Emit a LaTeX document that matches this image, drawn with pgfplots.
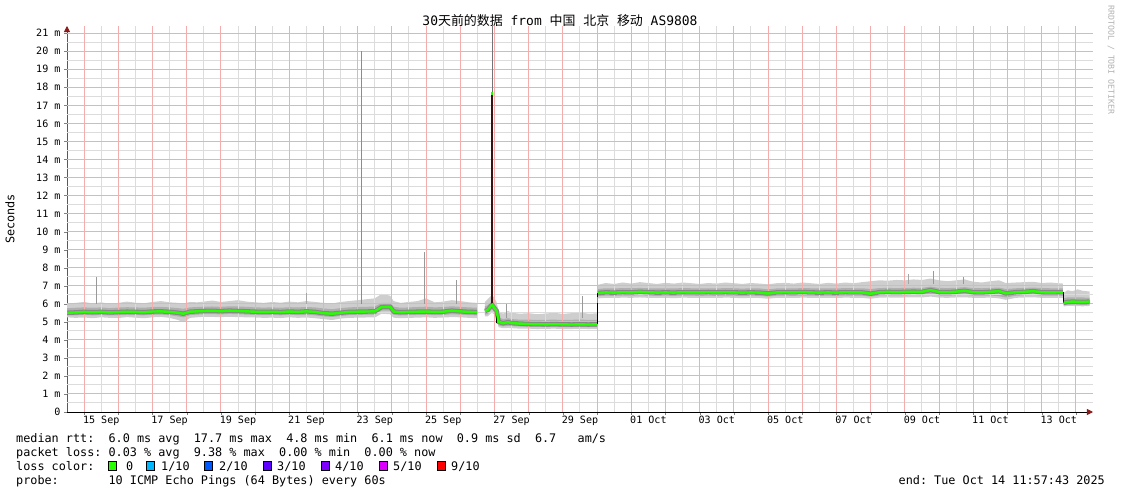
\documentclass[border=0pt]{standalone}
\usepackage{fontspec}
\usepackage{pgfplots}
\usepackage{pgfplotstable}
\pgfplotsset{compat=1.18}
\usepgfplotslibrary{fillbetween}
\usetikzlibrary{arrows.meta}
\setmainfont{DejaVu Sans Mono}
\newfontfamily\mono{DejaVu Sans Mono}
\newfontfamily\cjk{Noto Sans CJK SC}
\frenchspacing
\definecolor{gridred}{RGB}{244,172,172}
\definecolor{gridgray}{RGB}{220,220,220}
\definecolor{arrowred}{RGB}{140,25,25}
\definecolor{smokelight}{RGB}{206,206,206}
\definecolor{smokemid}{RGB}{175,175,175}
\definecolor{smokedark}{RGB}{135,135,135}
\definecolor{loss0}{HTML}{26FF00}
\definecolor{loss1}{HTML}{00B8FF}
\definecolor{loss2}{HTML}{0059FF}
\definecolor{loss3}{HTML}{5E00FF}
\definecolor{loss4}{HTML}{7E00FF}
\definecolor{loss5}{HTML}{DD00FF}
\definecolor{loss9}{HTML}{FF0000}
\newcommand\legfont{\mono\fontsize{11.85}{14}\selectfont}
\newcommand\tickfont{\mono\fontsize{10.1}{12}\selectfont}
\newcommand\titlefont{\fontsize{13}{15}\selectfont}

% x = days since start (Sep 14 11:57:43), columns: light upper, mid upper, median, mid lower, light lower
\pgfplotstableread{
x lu mu med ml ll
0.00 6.00 5.75 5.50 5.35 5.25
0.25 6.05 5.78 5.52 5.36 5.22
0.50 6.10 5.80 5.55 5.38 5.24
0.75 6.02 5.78 5.53 5.36 5.20
1.00 6.08 5.80 5.55 5.37 5.25
1.25 6.00 5.76 5.52 5.35 5.22
1.50 6.05 5.79 5.54 5.36 5.21
1.75 6.12 5.81 5.56 5.38 5.26
2.00 6.06 5.80 5.55 5.37 5.23
2.25 6.03 5.78 5.53 5.36 5.20
2.50 6.10 5.82 5.57 5.39 5.25
2.75 6.15 5.83 5.58 5.40 5.27
3.00 6.08 5.80 5.55 5.37 5.22
3.25 6.05 5.76 5.50 5.30 5.10
3.40 6.02 5.72 5.45 5.25 4.98
3.60 6.10 5.80 5.56 5.37 5.22
3.80 6.08 5.82 5.58 5.40 5.25
4.00 6.12 5.84 5.60 5.42 5.28
4.25 6.18 5.85 5.61 5.43 5.27
4.50 6.10 5.83 5.59 5.41 5.26
4.75 6.15 5.86 5.62 5.44 5.28
5.00 6.20 5.85 5.60 5.42 5.26
5.25 6.12 5.83 5.58 5.40 5.25
5.50 6.08 5.80 5.56 5.38 5.24
5.75 6.05 5.79 5.55 5.37 5.22
6.00 6.10 5.80 5.56 5.38 5.23
6.25 6.06 5.78 5.54 5.36 5.21
6.50 6.12 5.81 5.57 5.39 5.25
6.75 6.08 5.80 5.55 5.37 5.22
7.00 6.15 5.82 5.58 5.38 5.24
7.25 6.10 5.80 5.55 5.36 5.20
7.50 6.05 5.74 5.48 5.30 5.15
7.75 6.02 5.70 5.45 5.27 5.10
8.00 6.10 5.76 5.50 5.32 5.18
8.25 6.15 5.80 5.55 5.37 5.22
8.50 6.20 5.82 5.56 5.38 5.23
8.75 6.25 5.83 5.57 5.40 5.24
9.00 6.30 5.85 5.58 5.40 5.24
9.20 6.55 6.05 5.82 5.62 5.45
9.45 6.45 6.05 5.83 5.62 5.42
9.55 6.15 5.84 5.57 5.39 5.23
9.75 6.05 5.78 5.53 5.35 5.20
10.00 6.10 5.80 5.55 5.37 5.22
10.25 6.15 5.82 5.56 5.38 5.23
10.50 6.30 5.84 5.57 5.39 5.25
10.75 6.08 5.80 5.55 5.37 5.22
11.00 6.12 5.82 5.56 5.38 5.24
11.25 6.20 5.86 5.62 5.42 5.26
11.50 6.15 5.83 5.58 5.40 5.25
11.75 6.08 5.80 5.55 5.37 5.22
11.99 6.05 5.78 5.54 5.36 5.20
}\segA

\pgfplotstableread{
x lu mu med ml ll
12.22 6.10 5.85 5.60 5.40 5.30
12.30 6.25 5.92 5.65 5.42 5.30
12.38 6.40 6.05 5.85 5.60 5.45
12.43 6.50 6.10 5.95 5.70 5.50
12.50 6.30 5.95 5.75 5.52 5.40
12.56 6.10 5.80 5.62 5.35 5.20
12.62 5.60 5.25 5.00 4.80 4.70
12.75 5.45 5.15 4.92 4.75 4.65
12.90 5.60 5.20 4.98 4.78 4.66
13.00 5.50 5.15 4.93 4.76 4.65
13.25 5.45 5.12 4.90 4.74 4.62
13.50 5.48 5.12 4.88 4.72 4.62
13.75 5.42 5.10 4.87 4.72 4.60
14.00 5.46 5.11 4.86 4.71 4.61
14.25 5.50 5.12 4.87 4.72 4.62
14.50 5.44 5.10 4.86 4.70 4.60
14.75 5.48 5.11 4.85 4.70 4.60
15.00 5.52 5.13 4.86 4.71 4.61
15.25 5.45 5.10 4.85 4.70 4.60
15.50 5.47 5.11 4.86 4.71 4.61
}\segB

\pgfplotstableread{
x lu mu med ml ll
15.52 7.05 6.82 6.60 6.42 6.30
15.75 7.15 6.86 6.63 6.45 6.33
16.00 7.10 6.85 6.62 6.44 6.32
16.25 7.18 6.87 6.64 6.46 6.34
16.50 7.12 6.86 6.63 6.45 6.33
16.75 7.20 6.88 6.66 6.47 6.35
17.00 7.15 6.86 6.64 6.45 6.33
17.25 7.10 6.85 6.62 6.44 6.32
17.50 7.16 6.86 6.63 6.45 6.33
17.75 7.12 6.85 6.62 6.44 6.31
18.00 7.18 6.87 6.64 6.46 6.34
18.25 7.14 6.86 6.63 6.45 6.33
18.50 7.10 6.85 6.63 6.44 6.32
18.75 7.15 6.86 6.64 6.45 6.33
19.00 7.12 6.85 6.63 6.44 6.32
19.25 7.18 6.87 6.64 6.46 6.34
19.50 7.14 6.86 6.63 6.45 6.33
19.75 7.10 6.84 6.62 6.43 6.31
20.00 7.15 6.86 6.63 6.45 6.33
20.25 7.12 6.85 6.62 6.44 6.32
20.50 7.08 6.80 6.57 6.40 6.28
20.75 7.14 6.85 6.63 6.45 6.33
21.00 7.16 6.86 6.64 6.45 6.33
21.25 7.12 6.85 6.63 6.44 6.32
21.50 7.18 6.87 6.65 6.46 6.34
21.75 7.14 6.86 6.63 6.45 6.33
22.00 7.10 6.85 6.62 6.44 6.32
22.25 7.16 6.86 6.63 6.45 6.33
22.50 7.12 6.85 6.62 6.44 6.32
22.75 7.18 6.87 6.64 6.46 6.34
23.00 7.14 6.86 6.63 6.45 6.33
23.25 7.20 6.86 6.63 6.45 6.33
23.50 7.25 6.82 6.56 6.40 6.28
23.75 7.30 6.87 6.64 6.46 6.34
24.00 7.28 6.88 6.66 6.47 6.35
24.25 7.32 6.87 6.64 6.46 6.34
24.50 7.30 6.88 6.66 6.47 6.35
24.75 7.35 6.89 6.67 6.48 6.36
25.00 7.32 6.88 6.66 6.47 6.35
25.25 7.40 6.95 6.76 6.55 6.40
25.50 7.30 6.88 6.65 6.46 6.34
25.75 7.25 6.87 6.64 6.45 6.33
26.00 7.30 6.89 6.67 6.47 6.35
26.25 7.35 6.92 6.72 6.50 6.36
26.50 7.22 6.87 6.64 6.45 6.33
26.75 7.18 6.86 6.63 6.45 6.33
27.00 7.25 6.88 6.66 6.46 6.34
27.25 7.30 6.90 6.70 6.42 6.30
27.45 7.15 6.82 6.58 6.35 6.22
27.75 7.18 6.86 6.64 6.45 6.33
28.00 7.20 6.88 6.66 6.47 6.35
28.25 7.22 6.90 6.70 6.49 6.36
28.50 7.15 6.87 6.64 6.45 6.33
28.75 7.18 6.86 6.63 6.45 6.33
29.00 7.14 6.86 6.64 6.45 6.33
29.12 7.12 6.85 6.63 6.44 6.32
}\segC

\pgfplotstableread{
x lu mu med ml ll
29.14 6.60 6.30 6.05 5.92 5.85
29.25 6.75 6.35 6.10 5.95 5.88
29.40 6.70 6.35 6.12 5.96 5.88
29.55 6.80 6.36 6.11 5.95 5.87
29.70 6.72 6.35 6.10 5.94 5.86
29.90 6.68 6.34 6.12 5.95 5.88
}\segD

\begin{document}
\begin{tikzpicture}
\path (0,0) rectangle (1121bp,-494bp);
\begin{axis}[
  at={(67bp,-412bp)}, anchor=south west,
  scale only axis, width=1026bp, height=386bp,
  xmin=0, xmax=30, ymin=0, ymax=21.4,
  axis lines=left,
  x axis line style={draw=black, line width=0.8bp, -{Triangle[width=6bp,length=6bp,color=arrowred]}},
  y axis line style={draw=black!65, line width=0.8bp, -{Triangle[width=6bp,length=6bp,color=arrowred]}},
  xtick={0.5,1.5,...,29.5}, xticklabels={},
  extra x ticks={1,3,...,29},
  extra x tick labels={15 Sep,17 Sep,19 Sep,21 Sep,23 Sep,25 Sep,27 Sep,29 Sep,01 Oct,03 Oct,05 Oct,07 Oct,09 Oct,11 Oct,13 Oct},
  extra x tick style={major tick length=0pt},
  ytick={0,1,...,21},
  yticklabels={0,1 m,2 m,3 m,4 m,5 m,6 m,7 m,8 m,9 m,10 m,11 m,12 m,13 m,14 m,15 m,16 m,17 m,18 m,19 m,20 m,21 m},
  grid=none,
  tick align=outside,
  major tick length=3bp,
  ticklabel style={font=\tickfont},
  xticklabel style={yshift=-1bp},
]
% grid: minor (noon / half-ms) grey, major (midnight / ms) red
\pgfplotsinvokeforeach{1,...,29}{\draw[gridgray, line width=1bp] (axis cs:#1,0) -- (axis cs:#1,21.4);}
\pgfplotsinvokeforeach{0.5,1.5,...,20.5}{\draw[gridgray, line width=1bp] (axis cs:0,#1) -- (axis cs:30,#1);}
\pgfplotsinvokeforeach{0.5,1.5,...,29.5}{\draw[gridred, line width=1bp] (axis cs:#1,0) -- (axis cs:#1,21.4);}
\pgfplotsinvokeforeach{1,...,21}{\draw[gridred, line width=1bp] (axis cs:0,#1) -- (axis cs:30,#1);}
% segment A
\addplot[draw=none, name path=Au] table[x=x,y=lu]{\segA};
\addplot[draw=none, name path=Al] table[x=x,y=ll]{\segA};
\addplot[fill=smokelight, draw=none] fill between[of=Au and Al];
\addplot[draw=none, name path=Amu] table[x=x,y=mu]{\segA};
\addplot[draw=none, name path=Aml] table[x=x,y=ml]{\segA};
\addplot[fill=smokemid, draw=none] fill between[of=Amu and Aml];
\addplot[smokedark, line width=4.5bp] table[x=x,y=med]{\segA};
% segment B
\addplot[draw=none, name path=Bu] table[x=x,y=lu]{\segB};
\addplot[draw=none, name path=Bl] table[x=x,y=ll]{\segB};
\addplot[fill=smokelight, draw=none] fill between[of=Bu and Bl];
\addplot[draw=none, name path=Bmu] table[x=x,y=mu]{\segB};
\addplot[draw=none, name path=Bml] table[x=x,y=ml]{\segB};
\addplot[fill=smokemid, draw=none] fill between[of=Bmu and Bml];
\addplot[smokedark, line width=4.5bp] table[x=x,y=med]{\segB};
% segment C
\addplot[draw=none, name path=Cu] table[x=x,y=lu]{\segC};
\addplot[draw=none, name path=Cl] table[x=x,y=ll]{\segC};
\addplot[fill=smokelight, draw=none] fill between[of=Cu and Cl];
\addplot[draw=none, name path=Cmu] table[x=x,y=mu]{\segC};
\addplot[draw=none, name path=Cml] table[x=x,y=ml]{\segC};
\addplot[fill=smokemid, draw=none] fill between[of=Cmu and Cml];
\addplot[smokedark, line width=4.5bp] table[x=x,y=med]{\segC};
% segment D
\addplot[draw=none, name path=Du] table[x=x,y=lu]{\segD};
\addplot[draw=none, name path=Dl] table[x=x,y=ll]{\segD};
\addplot[fill=smokelight, draw=none] fill between[of=Du and Dl];
\addplot[draw=none, name path=Dmu] table[x=x,y=mu]{\segD};
\addplot[draw=none, name path=Dml] table[x=x,y=ml]{\segD};
\addplot[fill=smokemid, draw=none] fill between[of=Dmu and Dml];
\addplot[smokedark, line width=4.5bp] table[x=x,y=med]{\segD};
% max-ping spikes
\addplot[color=black!40, line width=1bp] coordinates {(0.85,6.0) (0.85,7.5)};
\addplot[color=black!45, line width=1bp] coordinates {(8.60,6.0) (8.60,20.0)};
\addplot[color=black!40, line width=1bp] coordinates {(10.44,6.0) (10.44,8.85)};
\addplot[color=black!40, line width=1bp] coordinates {(11.40,6.0) (11.40,7.3)};
\addplot[color=black!35, line width=1bp] coordinates {(7.00,6.0) (7.00,6.6)};
\addplot[color=black!40, line width=1bp] coordinates {(12.85,5.2) (12.85,6.0)};
\addplot[color=black!40, line width=1bp] coordinates {(15.06,5.2) (15.06,6.45)};
\addplot[color=black!35, line width=1bp] coordinates {(24.60,7.1) (24.60,7.65)};
\addplot[color=black!40, line width=1bp] coordinates {(25.35,7.1) (25.35,7.8)};
\addplot[color=black!40, line width=1bp] coordinates {(26.20,7.1) (26.20,7.5)};
% big spike
\addplot[color=black!55, line width=1bp] coordinates {(12.44,6.0) (12.44,21.4)};
\addplot[color={rgb,255:red,58;green,18;blue,18}, line width=2.6bp] coordinates {(12.43,5.9) (12.43,17.7)};
% steps of the median
\addplot[color=black, line width=1bp] coordinates {(12.57,5.62) (12.57,4.95)};
\addplot[color=black, line width=1bp] coordinates {(15.51,4.86) (15.51,6.60)};
\addplot[color=loss1, line width=1.6bp] coordinates {(15.51,6.05) (15.51,6.40)};
\addplot[color=black, line width=1bp] coordinates {(29.13,6.63) (29.13,6.06)};
% median lines
\addplot[loss0, line width=2.4bp] table[x=x,y=med]{\segA};
\addplot[loss0, line width=2.4bp] table[x=x,y=med]{\segB};
\addplot[loss0, line width=2.4bp] table[x=x,y=med]{\segC};
\addplot[loss0, line width=2.4bp] table[x=x,y=med]{\segD};
\addplot[loss0, line width=2.6bp] coordinates {(12.43,17.6) (12.43,17.72)};
\end{axis}
% title and labels
\node[font=\titlefont, inner sep=0] at (560bp,-21bp) {30{\cjk 天前的数据} from {\cjk 中国} {\cjk 北京} {\cjk 移动} AS9808};
\node[font=\legfont, rotate=90, inner sep=0] at (10bp,-219bp) {Seconds};
\node[font=\mono\fontsize{8.3}{10}\selectfont, text=black!30, rotate=-90, inner sep=0] at (1111bp,-60bp) {RRDTOOL / TOBI OETIKER};
% legend text
\node[font=\legfont, anchor=base west, inner sep=0] at (16bp,-442bp) {median rtt:~~6.0 ms avg~~17.7 ms max~~4.8 ms min~~6.1 ms now~~0.9 ms sd~~6.7~~~am/s};
\node[font=\legfont, anchor=base west, inner sep=0] at (16bp,-456bp) {packet loss: 0.03 \% avg~~9.38 \% max~~0.00 \% min~~0.00 \% now};
\node[font=\legfont, anchor=base west, inner sep=0] at (16bp,-470bp) {loss color:};
\node[font=\legfont, anchor=base west, inner sep=0] at (16bp,-484bp) {probe:~~~~~~~10 ICMP Echo Pings (64 Bytes) every 60s};
\node[font=\legfont, anchor=base east, inner sep=0] at (1105bp,-484bp) {end: Tue Oct 14 11:57:43 2025};
% loss colour swatches
\foreach \bx/\lx/\c/\t in {108/126/loss0/0, 146/161/loss1/1\slash 10, 204/219/loss2/2\slash 10, 263/277/loss3/3\slash 10, 321/335/loss4/4\slash 10, 379/393/loss5/5\slash 10, 437/451/loss9/9\slash 10}{
  \filldraw[fill=\c, draw=black, line width=0.9bp] (\bx bp,-461.5bp) rectangle ++(8bp,-8.5bp);
  \node[font=\legfont, anchor=base west, inner sep=0] at (\lx bp,-470bp) {\t};
}
\end{tikzpicture}
\end{document}
